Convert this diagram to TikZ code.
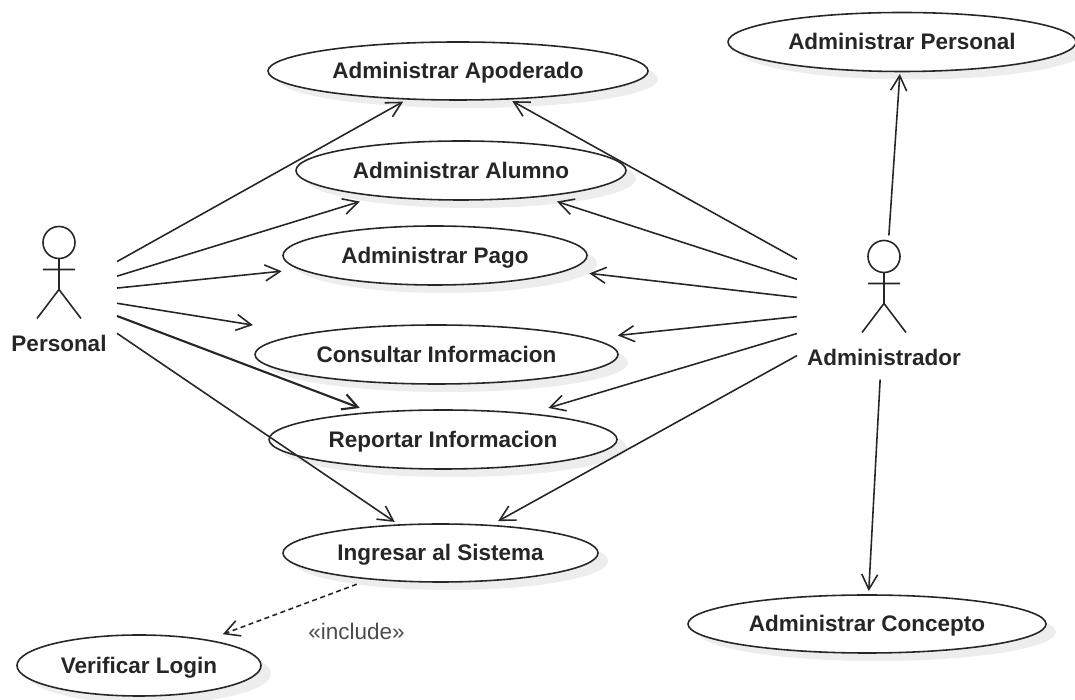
\documentclass[tikz,border=0pt]{standalone}
\usepackage{fontspec}
\setmainfont{Liberation Sans}
\usetikzlibrary{arrows.meta,shapes.geometric,shadows}
\definecolor{umlink}{HTML}{262626}
\tikzset{
  usecase/.style={ellipse,draw=umlink,fill=white,inner sep=0pt,outer sep=0pt,line width=.9pt,
    font=\fontsize{12.8}{15}\selectfont\bfseries,text=umlink,text height=9.5pt,text depth=.8pt,
    drop shadow={shadow xshift=.2cm,shadow yshift=-.16cm,fill=black!7,opacity=1}},
  actorbox/.style={rectangle,inner sep=0pt,outer sep=0pt},
  actorname/.style={font=\fontsize{12.8}{15}\selectfont\bfseries,text=umlink,inner sep=0pt},
  assoc/.style={draw=umlink,line width=.9pt,-{Straight Barb[length=.3cm,width=.32cm]}},
  stickman/.pic={
    \draw [umlink,line width=.9pt] (0,1.02) circle (.32);
    \draw [umlink,line width=.9pt] (0,.70) -- (0,.08) (-.32,.48) -- (.32,.48) (-.44,-.5) -- (0,.08) -- (.44,-.5);
  }
}
\begin{document}
\begin{tikzpicture}
\useasboundingbox (0,0) rectangle (21.5,14);
% use cases
\node [usecase,minimum width=7.6cm,minimum height=1.16cm] (apoderado) at (9.16,12.58) {Administrar Apoderado};
\node [usecase,minimum width=6.6cm,minimum height=1.18cm] (alumno) at (9.22,10.59) {Administrar Alumno};
\node [usecase,minimum width=6.08cm,minimum height=1.18cm] (pago) at (8.70,8.89) {Administrar Pago};
\node [usecase,minimum width=7.26cm,minimum height=1.18cm] (consultar) at (8.73,6.91) {Consultar Informacion};
\node [usecase,minimum width=6.96cm,minimum height=1.18cm] (reportar) at (8.86,5.21) {Reportar Informacion};
\node [usecase,minimum width=6.3cm,minimum height=1.16cm] (ingresar) at (8.81,2.94) {Ingresar al Sistema};
\node [usecase,minimum width=4.88cm,minimum height=1.22cm] (verificar) at (2.78,0.69) {Verificar Login};
\node [usecase,minimum width=6.96cm,minimum height=1.18cm] (adminpersonal) at (18.04,13.16) {Administrar Personal};
\node [usecase,minimum width=7.16cm,minimum height=1.16cm] (concepto) at (17.34,1.52) {Administrar Concepto};
% actors
\node [actorbox,minimum width=2.32cm,minimum height=2.6cm] (personal) at (1.18,8.12) {};
\node [actorbox,minimum width=3.48cm,minimum height=2.88cm] (administrador) at (17.68,7.85) {};
\pic at (1.18,8.13) {stickman};
\pic at (administrador.center) {stickman};
\node [actorname] (personalname) at (1.18,7.14) {Personal};
\node [actorname] (administradorname) at (17.68,6.86) {Administrador};
% personal
\draw [assoc,shorten >=.11cm] (personal) -- (apoderado);
\draw [assoc,shorten >=.38cm] (personal) -- (alumno);
\draw [assoc,shorten >=.38cm] (personal) -- (pago);
\draw [assoc,shorten >=1.10cm] (personal) -- (consultar);
\draw [assoc,line width=1.2pt,shorten >=.26cm] (personal) -- (reportar);
\draw [assoc,shorten >=.11cm] (personal) -- (ingresar);
% administrador
\draw [assoc,shorten >=.09cm] (administrador) -- (apoderado);
\draw [assoc,shorten >=.34cm] (administrador) -- (alumno);
\draw [assoc,shorten >=.48cm] (administrador) -- (pago);
\draw [assoc,shorten >=.58cm] (administrador) -- (consultar);
\draw [assoc,shorten >=.41cm] (administrador) -- (reportar);
\draw [assoc,shorten >=.18cm] (administrador) -- (ingresar);
\draw [assoc,shorten >=.05cm] (administrador) -- (adminpersonal);
\draw [assoc,shorten >=.08cm] (administrador) -- (concepto);
% include
\draw [assoc,dash pattern=on .1cm off .07cm,shorten <=.3cm,shorten >=.34cm] (ingresar) -- (verificar);
\node [font=\fontsize{12.8}{15}\selectfont,text=black!70,inner sep=0pt] (includelabel) at (7.13,1.37) {«include»};
\end{tikzpicture}
\end{document}
